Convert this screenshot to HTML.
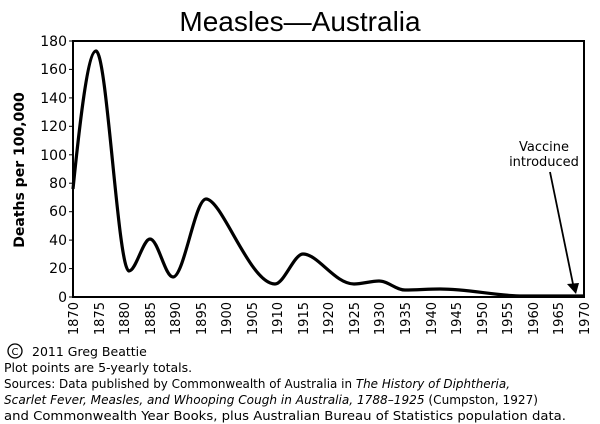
<!DOCTYPE html>
<html><head><meta charset="utf-8"><style>
html,body{margin:0;padding:0;background:#fff;}
svg{display:block;font-family:"DejaVu Sans","Liberation Sans",sans-serif;}
</style></head><body>
<svg width="600" height="424" viewBox="0 0 600 424" xmlns="http://www.w3.org/2000/svg">
<rect width="600" height="424" fill="#fff"/>
<text x="300" y="31" font-size="28" text-anchor="middle" font-family="Liberation Sans, sans-serif" fill="#000">Measles—Australia</text>
<rect x="73" y="41" width="511" height="256" fill="none" stroke="#000" stroke-width="2"/>
<g font-size="14" text-anchor="end" fill="#000">
<text x="67" y="302">0</text><text x="67" y="273">20</text><text x="67" y="245">40</text>
<text x="67" y="216">60</text><text x="67" y="188">80</text><text x="67" y="160">100</text>
<text x="67" y="131">120</text><text x="67" y="103">140</text><text x="67" y="74">160</text>
<text x="67" y="46">180</text>
</g>
<g stroke="#000" stroke-width="1">
<line x1="69" y1="297" x2="73" y2="297"/><line x1="69" y1="268.6" x2="73" y2="268.6"/>
<line x1="69" y1="240.1" x2="73" y2="240.1"/><line x1="69" y1="211.7" x2="73" y2="211.7"/>
<line x1="69" y1="183.2" x2="73" y2="183.2"/><line x1="69" y1="154.8" x2="73" y2="154.8"/>
<line x1="69" y1="126.3" x2="73" y2="126.3"/><line x1="69" y1="97.9" x2="73" y2="97.9"/>
<line x1="69" y1="69.4" x2="73" y2="69.4"/><line x1="69" y1="41" x2="73" y2="41"/>
</g>
<text transform="translate(24,170) rotate(-90)" font-size="14" font-weight="bold" text-anchor="middle">Deaths per 100,000</text>
<g font-size="13" fill="#000">
<text transform="translate(78,302) rotate(-90)" text-anchor="end">1870</text>
<text transform="translate(104,302) rotate(-90)" text-anchor="end">1875</text>
<text transform="translate(129,302) rotate(-90)" text-anchor="end">1880</text>
<text transform="translate(155,302) rotate(-90)" text-anchor="end">1885</text>
<text transform="translate(180,302) rotate(-90)" text-anchor="end">1890</text>
<text transform="translate(206,302) rotate(-90)" text-anchor="end">1895</text>
<text transform="translate(231,302) rotate(-90)" text-anchor="end">1900</text>
<text transform="translate(257,302) rotate(-90)" text-anchor="end">1905</text>
<text transform="translate(282,302) rotate(-90)" text-anchor="end">1910</text>
<text transform="translate(308,302) rotate(-90)" text-anchor="end">1915</text>
<text transform="translate(333,302) rotate(-90)" text-anchor="end">1920</text>
<text transform="translate(359,302) rotate(-90)" text-anchor="end">1925</text>
<text transform="translate(384,302) rotate(-90)" text-anchor="end">1930</text>
<text transform="translate(410,302) rotate(-90)" text-anchor="end">1935</text>
<text transform="translate(436,302) rotate(-90)" text-anchor="end">1940</text>
<text transform="translate(461,302) rotate(-90)" text-anchor="end">1945</text>
<text transform="translate(487,302) rotate(-90)" text-anchor="end">1950</text>
<text transform="translate(512,302) rotate(-90)" text-anchor="end">1955</text>
<text transform="translate(538,302) rotate(-90)" text-anchor="end">1960</text>
<text transform="translate(563,302) rotate(-90)" text-anchor="end">1965</text>
<text transform="translate(589,302) rotate(-90)" text-anchor="end">1970</text>
</g>
<path d="M73,189 C80,120 88,51 96,51 C107,51 118,271 129,271 C136,271 143,239 150,239 C158,239 165,277 173,277 C184,277 195,199 206,199 C222,199 250,284 275,284 C284,284 294,254 303,254 C318,254 335,284 354,284 C362,284 371,281 379,281 C388,281 396,290 405,290 C417,290 428,289 440,289 C470,289 495,296 523,296 L584,296" fill="none" stroke="#000" stroke-width="3.2" stroke-linejoin="round"/>
<text x="544" y="151" font-size="13" text-anchor="middle">Vaccine</text>
<text x="544" y="166" font-size="13" text-anchor="middle">introduced</text>
<line x1="550" y1="172" x2="573" y2="284" stroke="#000" stroke-width="1.8"/>
<polygon points="567,284 579,283 576,294" fill="#000"/>
<g font-size="12.5" fill="#000">
<circle cx="15" cy="351" r="7" fill="none" stroke="#000" stroke-width="1.3"/>
<text x="15" y="355" font-size="10" text-anchor="middle">C</text>
<text x="32" y="356">2011 Greg Beattie</text>
<text x="4" y="372">Plot points are 5-yearly totals.</text>
<text x="4" y="388" textLength="506" lengthAdjust="spacingAndGlyphs">Sources: Data published by Commonwealth of Australia in <tspan font-style="italic">The History of Diphtheria,</tspan></text>
<text x="4" y="404" textLength="534" lengthAdjust="spacingAndGlyphs"><tspan font-style="italic">Scarlet Fever, Measles, and Whooping Cough in Australia, 1788–1925</tspan> (Cumpston, 1927)</text>
<text x="4" y="420" textLength="562" lengthAdjust="spacingAndGlyphs">and Commonwealth Year Books, plus Australian Bureau of Statistics population data.</text>
</g>
</svg>
</body></html>
